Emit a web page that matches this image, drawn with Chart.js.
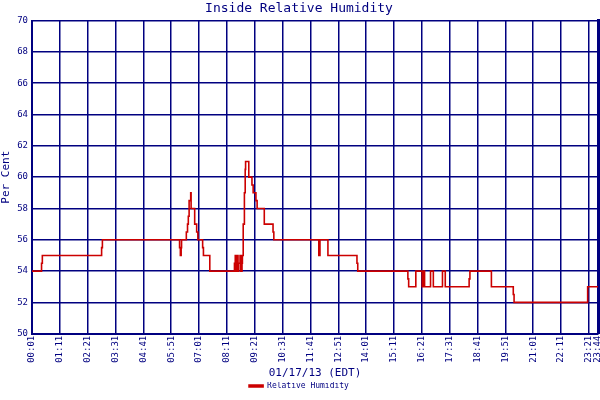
<!DOCTYPE html>
<html><head><meta charset="utf-8">
<script src="https://cdn.jsdelivr.net/npm/chart.js@4"></script>
<style>body{margin:0;background:#fff}#wrap{width:600px;height:400px}</style>
</head><body><div id="wrap"><canvas id="c"></canvas></div>
<script>
// minutes after midnight where the reading changes, and the new value
const times = [1,25,27,176,178,372,374,376,377,389,392,394,396,400,401,410,415,418,430,432,448,
  510,512,514,517,519,521,524,526,529,530,532,535,537,538,546,554,557,564,567,585,607,609,611,
  722,725,727,745,747,818,820,946,948,966,968,982,985,988,1003,1004,1010,1011,1033,1034,1040,1041,
  1100,1102,1156,1211,1213,1398,1424];
const rh = [54,54.5,55,55.5,56,55.5,55,55.5,56,56.5,57,57.5,58.5,59,58,57,56.5,56,55.5,55,54,
  54.5,55,54,55,54,54.5,55,54,54.5,55,57,59,60.5,61,60,59.5,59,58.5,58,57,56.5,56,56,
  55,56,56,55,55,54.5,54,53.5,53,54,54,53,54,53,54,54,53,53,54,54,53,53,
  53.5,54,53,52.5,52,53,53];
const tickMinutes = [1,71,141,211,281,351,421,491,561,631,701,771,841,911,981,1051,1121,1191,1261,1331,1401,1424];
const fmt = m => String(Math.floor(m/60)).padStart(2,'0') + ':' + String(m%60).padStart(2,'0');

const blue = '#000080', red = '#cc0000', font = 'DejaVu Sans Mono';
new Chart(document.getElementById('c'), {
  type: 'line',
  data: {
    datasets: [{
      label: 'Relative Humidity',
      data: times.map((t,i) => ({x: t, y: rh[i]})),
      borderColor: red, backgroundColor: red, borderWidth: 1.6,
      pointRadius: 0, stepped: true, fill: false
    }]
  },
  options: {
    responsive: true, maintainAspectRatio: false, animation: false,
    layout: {padding: {left: 0, right: 2, top: 0, bottom: 0}},
    plugins: {
      title: {display: true, text: 'Inside Relative Humidity', color: blue,
        font: {family: font, size: 13, weight: 'normal'}, padding: {top: 1, bottom: 4}},
      legend: {position: 'bottom', labels: {color: blue, font: {family: font, size: 8},
        boxWidth: 14, boxHeight: 2, padding: 0}},
      tooltip: {enabled: false}
    },
    scales: {
      x: {
        type: 'linear', min: 1, max: 1424,
        afterBuildTicks: s => { s.ticks = tickMinutes.map(v => ({value: v})); },
        afterFit: s => { s.paddingRight = 0; s.paddingLeft = 0; },
        ticks: {color: blue, font: {family: font, size: 9}, maxRotation: 90, minRotation: 90,
          autoSkip: false, padding: 2, callback: v => fmt(v)},
        grid: {color: blue, lineWidth: 1.5, drawTicks: false, z: -1},
        border: {color: blue, width: 2},
        title: {display: true, text: '01/17/13 (EDT)', color: blue,
          font: {family: font, size: 11}, padding: {top: 2, bottom: 2}}
      },
      y: {
        min: 50, max: 70,
        afterFit: s => { s.width = 32; },
        ticks: {stepSize: 2, color: blue, font: {family: font, size: 9}, padding: 4},
        grid: {color: blue, lineWidth: 1.5, drawTicks: false, z: -1},
        border: {color: blue, width: 2},
        title: {display: true, text: 'Per Cent', color: blue, font: {family: font, size: 11}, padding: 0}
      },
      y2: {
        position: 'right', min: 50, max: 70,
        afterFit: s => { s.width = 0; },
        ticks: {display: false},
        grid: {display: false},
        border: {color: blue, width: 3}
      }
    }
  }
});
</script></body></html>
